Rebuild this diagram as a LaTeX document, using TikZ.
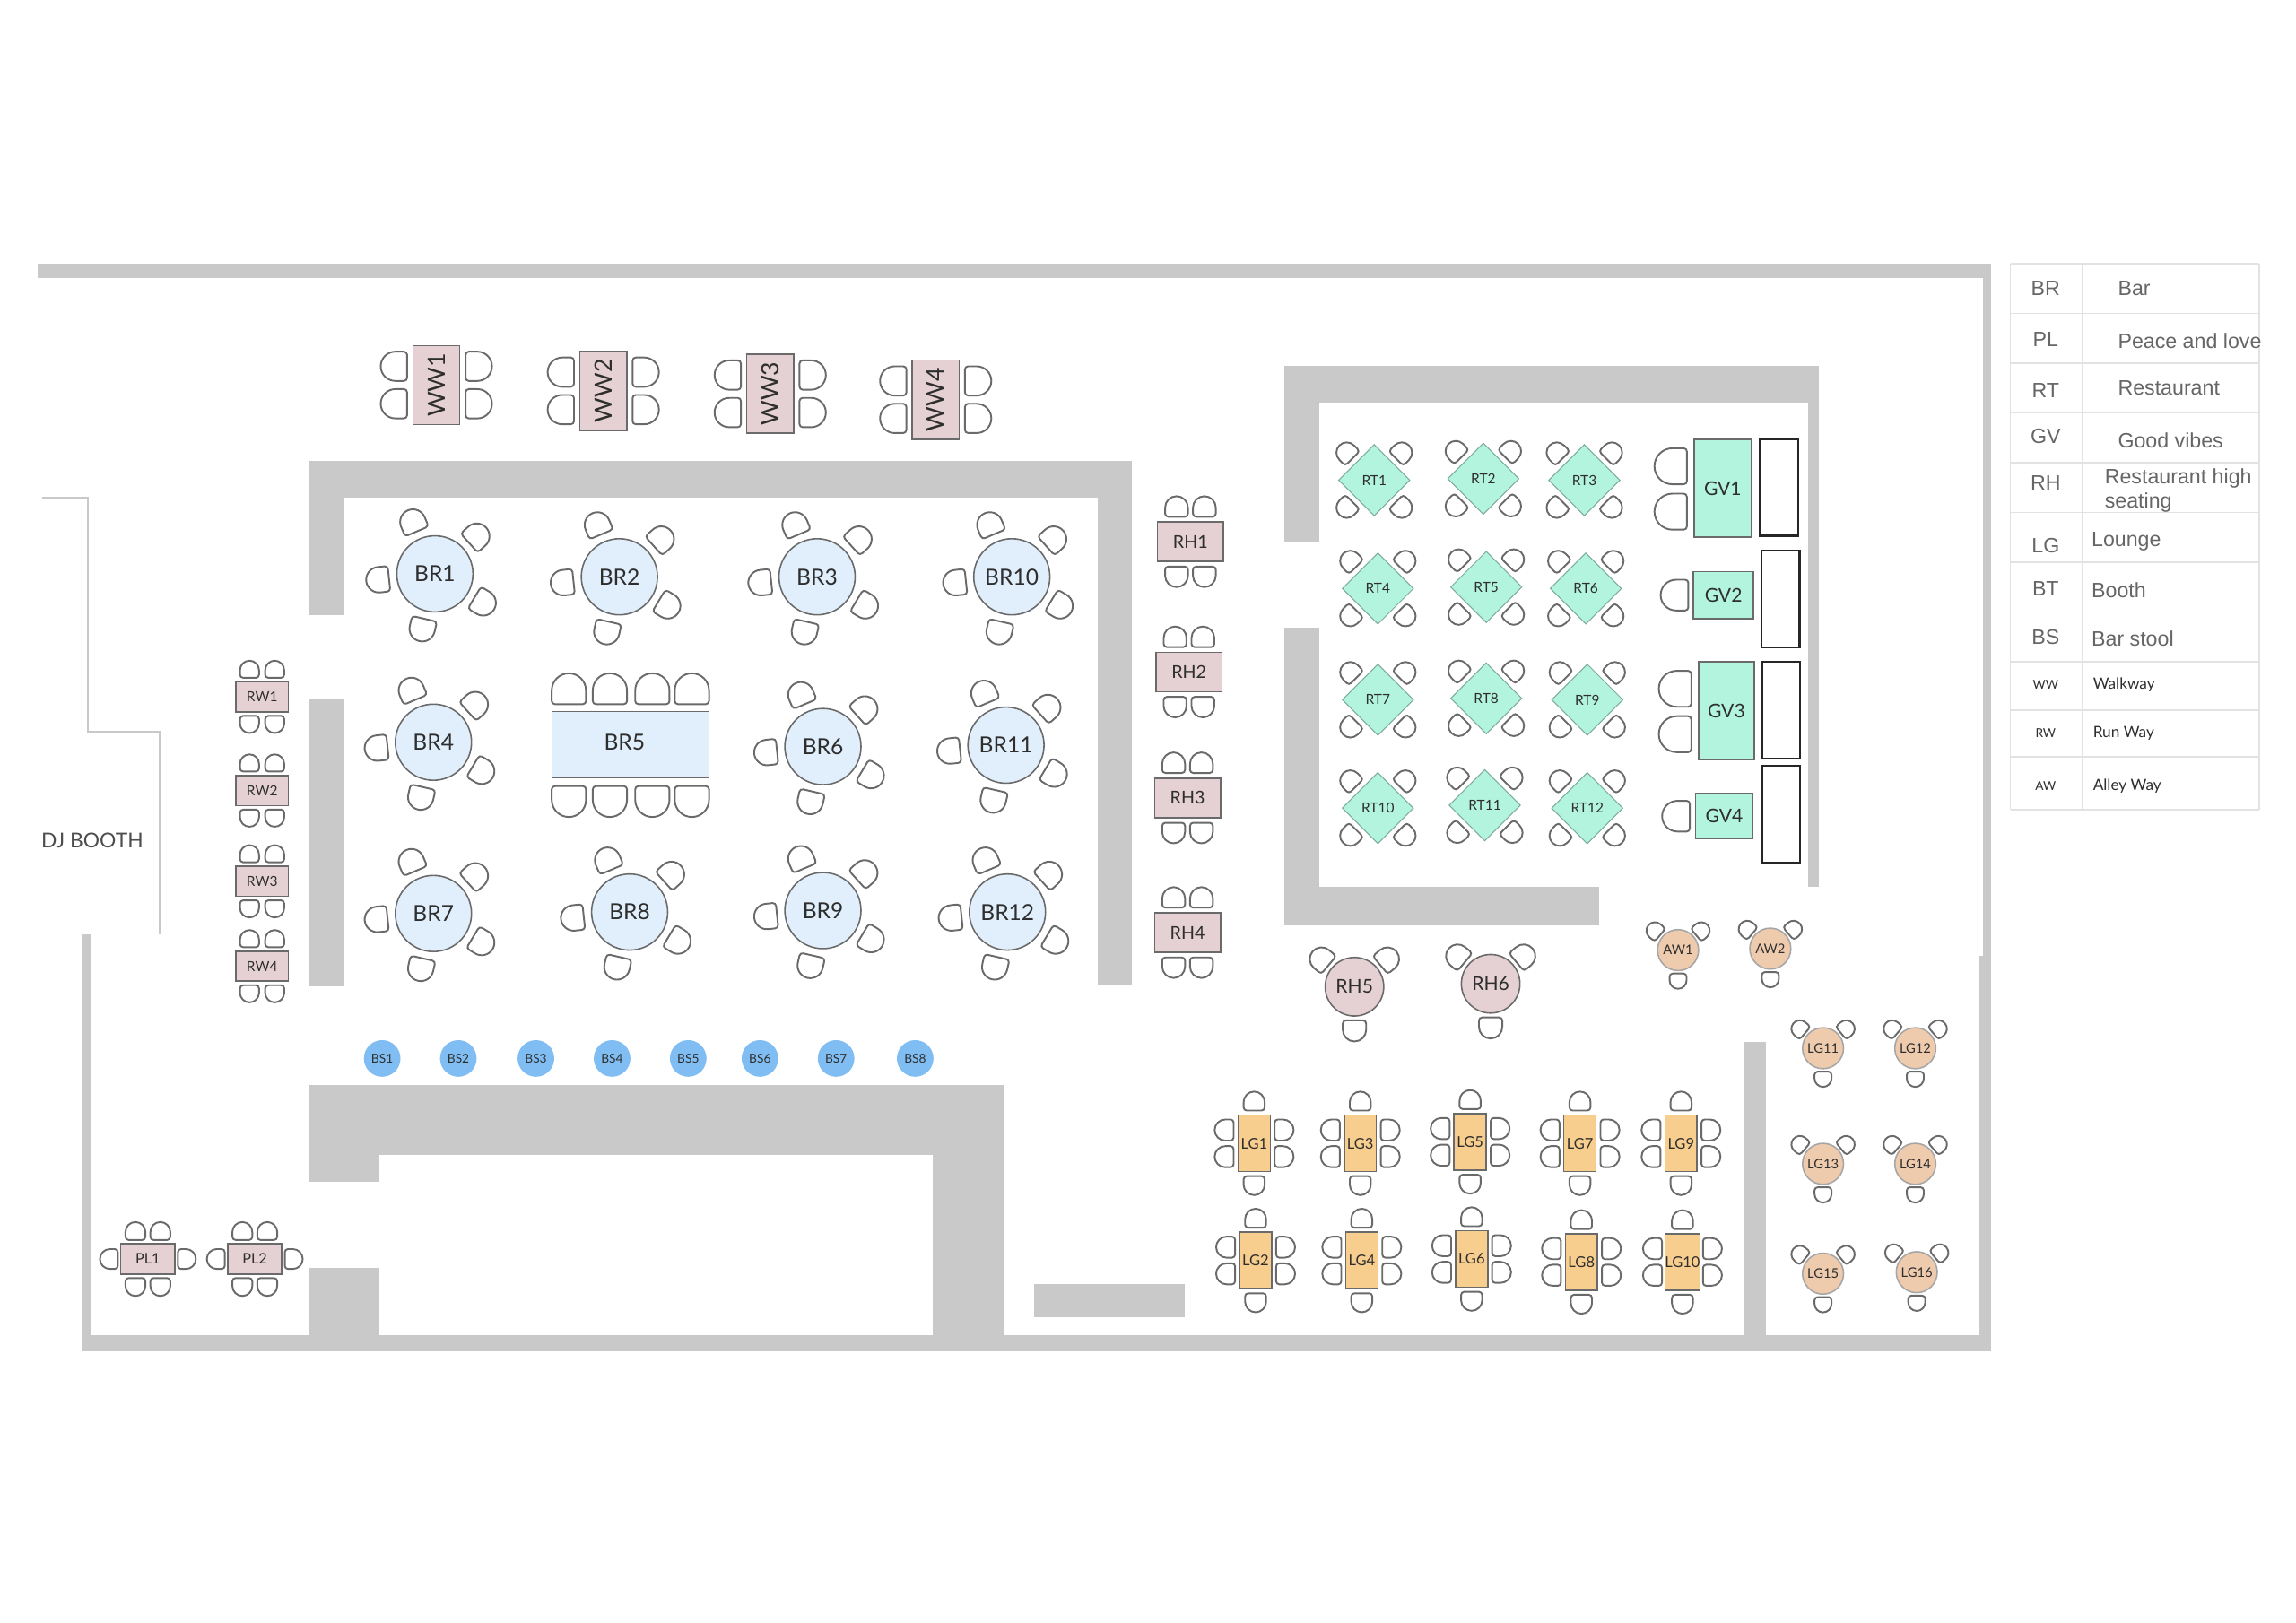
\documentclass[tikz,border=0pt]{standalone}
\usepackage{fontspec}
\setmainfont{Lato}
\newfontfamily\legendfont{Liberation Sans}
\usetikzlibrary{calc,shapes.geometric}

\definecolor{wallgrey}{HTML}{C9C9C9}
\definecolor{chairline}{HTML}{6A6A6A}
\definecolor{barblue}{HTML}{E0EFFB}
\definecolor{rosepink}{HTML}{E5D1D3}
\definecolor{mint}{HTML}{B3F4DF}
\definecolor{loungeorange}{HTML}{F8CE8E}
\definecolor{peach}{HTML}{EFCBAE}
\definecolor{stoolblue}{HTML}{7FBDF2}
\definecolor{legendline}{HTML}{E2E2E2}
\definecolor{legendtext}{HTML}{666666}
\definecolor{labeltext}{HTML}{2E2E2E}

\def\tu{0.16327mm}
\newcommand{\seat}[4]{\pic[rotate=#3,scale=#4] at ($(#1)+(#2)$) {chair}}

\begin{document}
\begin{tikzpicture}[
		x=0.16327mm, y=-0.16327mm,
		wall/.style = {fill=wallgrey},
		chair/.pic = {
			\draw[chairline, line width=.55pt, x=\tu, y=\tu] (8,-10) [rounded corners=1pt] -- (0,-10) -- (0,10) [sharp corners] -- (8,10) arc[start angle=90, end angle=-90, radius=10] -- cycle;
		},
		basic/.style = {draw=chairline, line width=.45pt, inner sep=0pt, outer sep=0pt, text=labeltext, align=center},
		bartable/.style = {basic, circle, fill=barblue, minimum size=52*\tu, font=\fontsize{7}{8}\selectfont},
		walktable/.style = {basic, rotate=90, fill=rosepink, minimum width=54*\tu, minimum height=32*\tu, font=\fontsize{7.6}{8}\selectfont},
		hightable/.style = {basic, fill=rosepink, minimum width=45*\tu, minimum height=27*\tu, font=\fontsize{5.6}{6}\selectfont},
		runtable/.style = {basic, fill=rosepink, minimum width=36*\tu, minimum height=20.5*\tu, font=\fontsize{4.4}{5}\selectfont},
		peacetable/.style = {basic, fill=rosepink, minimum width=37*\tu, minimum height=21*\tu, font=\fontsize{4.6}{5}\selectfont},
		resttable/.style = {basic, diamond, aspect=1, draw=mint!70!black, line width=.3pt, fill=mint, minimum size=48.5*\tu, font=\fontsize{4.4}{5}\selectfont},
		vibetable/.style = {basic, fill=mint, font=\fontsize{6}{7}\selectfont},
		bench/.style = {draw=black!85, line width=.6pt, fill=white, inner sep=0pt, minimum width=26*\tu, minimum height=66*\tu},
		loungetable/.style = {basic, fill=loungeorange, minimum width=22*\tu, minimum height=38.5*\tu, font=\fontsize{4.7}{5}\selectfont},
		sofatable/.style = {basic, circle, fill=rosepink, minimum size=40*\tu, font=\fontsize{6}{7}\selectfont},
		alleytable/.style = {basic, circle, draw=chairline!60, fill=peach, minimum size=28*\tu, font=\fontsize{4.2}{5}\selectfont},
		stool/.style = {circle, fill=stoolblue, inner sep=0pt, minimum size=25*\tu, text=labeltext, font=\fontsize{3.9}{4}\selectfont},
		legendkey/.style = {text=legendtext, font=\legendfont\fontsize{6.6}{7}\selectfont},
		legendname/.style = {anchor=west, text=legendtext, font=\legendfont\fontsize{6.6}{7.6}\selectfont, align=left, inner sep=0pt},
		smallkey/.style = {text=labeltext, font=\fontsize{3.9}{4}\selectfont},
		smallname/.style = {anchor=west, text=labeltext, inner sep=0pt, font=\fontsize{4.9}{5}\selectfont}]

	\useasboundingbox (0,0) rectangle (1568,1108.6);

	% outer walls
	\fill[wall] (26,180) rectangle (1360,190);
	\fill[wall] (1354,190) rectangle (1360,653);
	\fill[wall] (1351,653) rectangle (1360,923);
	\fill[wall] (56,912) rectangle (1360,923);
	\fill[wall] (56,638) rectangle (62,923);

	% bar room walls
	\fill[wall] (211,315) rectangle (773,340);
	\fill[wall] (211,340) rectangle (235,420);
	\fill[wall] (211,478) rectangle (235,674);
	\fill[wall] (750,340) rectangle (773,673);

	% counter and lower blocks
	\fill[wall] (211,741) rectangle (686,789);
	\fill[wall] (211,789) rectangle (259,807);
	\fill[wall] (637,789) rectangle (686,912);
	\fill[wall] (211,866) rectangle (259,912);
	\fill[wall] (706,877) rectangle (809,900);
	\fill[wall] (1191,712) rectangle (1206,912);

	% restaurant room walls
	\fill[wall] (877,250) rectangle (1242,275);
	\fill[wall] (877,275) rectangle (901,370);
	\fill[wall] (877,429) rectangle (901,632);
	\fill[wall] (901,606) rectangle (1092,632);
	\fill[wall] (1235,275) rectangle (1242,606);

	% dj booth outline
	\draw[wallgrey, line width=.6pt] (29,340) -- (60,340) -- (60,500) -- (109,500) -- (109,638);
	\node[text=labeltext!85, font=\fontsize{6.5}{7}\selectfont, inner sep=0pt] (dj) at (63,574) {DJ BOOTH};

	% walkway tables
	\foreach \tbl/\px/\py in {WW1/298/263, WW2/412/267, WW3/526/269, WW4/639/273} {
		\node[walktable] (\tbl) at (\px,\py) {\tbl};
		\foreach \dx/\ang in {-20/180, 20/0}
		\foreach \dy in {-12.8,12.8}
		\seat{\tbl}{\dx,\dy}{\ang}{1};
	}

	% round bar tables
	\foreach \tbl/\px/\py in {BR1/297/392, BR2/423/394, BR3/558/394, BR10/691/394, BR4/296/507, BR6/562/510, BR11/687/509, BR7/296/624, BR8/430/623, BR9/562/622, BR12/688/623} {
		\node[bartable] (\tbl) at (\px,\py) {\tbl};
		\foreach \ang in {186,113,42,-31,-103}
		\seat{\tbl}{-\ang:31.5}{\ang}{.87};
	}

	% long bar table
	\fill[barblue] (377,486) rectangle (484,531);
	\draw[chairline, line width=.5pt] (377,486) -- (484,486);
	\draw[chairline, line width=.5pt] (377,531) -- (484,531);
	\node[text=labeltext, inner sep=0pt, font=\fontsize{7}{8}\selectfont] (BR5) at (426.5,507) {BR5};
	\foreach \dx in {-38,-10,19,46} {
		\seat{BR5}{\dx,-26}{90}{1.17};
		\seat{BR5}{\dx,30}{-90}{1.17};
	}

	% run way tables
	\foreach \tbl/\py in {RW1/476, RW2/540, RW3/602, RW4/660} {
		\node[runtable] (\tbl) at (179,\py) {\tbl};
		\foreach \dy/\ang in {-13/90, 13/-90}
		\foreach \dx in {-8.6,8.6}
		\seat{\tbl}{\dx,\dy}{\ang}{.65};
	}

	% restaurant high tables
	\foreach \tbl/\px/\py in {RH1/813/370, RH2/812/459, RH3/811/545, RH4/811/637} {
		\node[hightable] (\tbl) at (\px,\py) {\tbl};
		\foreach \dy/\ang in {-17/90, 17/-90}
		\foreach \dx in {-9.5,9.5}
		\seat{\tbl}{\dx,\dy}{\ang}{.78};
	}

	% peace and love tables
	\foreach \tbl/\px in {PL1/101, PL2/174} {
		\node[peacetable] (\tbl) at (\px,860) {\tbl};
		\foreach \dy/\ang in {-13/90, 13/-90}
		\foreach \dx in {-8.5,8.5}
		\seat{\tbl}{\dx,\dy}{\ang}{.68};
		\seat{\tbl}{-20.5,0}{180}{.68};
		\seat{\tbl}{20.5,0}{0}{.68};
	}

	% restaurant diamonds
	\foreach \tbl/\px/\py in {RT1/938.5/328, RT2/1013/327, RT3/1082/328, RT4/941/402, RT5/1015/401, RT6/1083/402, RT7/941/478, RT8/1015/477, RT9/1084/478, RT10/941/552, RT11/1014/550, RT12/1084/552} {
		\node[resttable] (\tbl) at (\px,\py) {\tbl};
		\foreach \ang in {45,135,225,315}
		\seat{\tbl}{-\ang:21}{\ang}{.7};
	}

	% good vibes booths
	\node[vibetable, minimum width=39*\tu, minimum height=67*\tu] (GV1) at (1176.5,333.5) {GV1};
	\node[vibetable, minimum width=41*\tu, minimum height=32*\tu] (GV2) at (1177,406.5) {GV2};
	\node[vibetable, minimum width=38*\tu, minimum height=67*\tu] (GV3) at (1179,485.5) {GV3};
	\node[vibetable, minimum width=39*\tu, minimum height=31*\tu] (GV4) at (1177.5,557.5) {GV4};
	\seat{GV1}{-24.5,-15}{180}{1.23};
	\seat{GV1}{-24.5,16}{180}{1.23};
	\seat{GV2}{-24,0}{180}{1.05};
	\seat{GV3}{-24,-15}{180}{1.23};
	\seat{GV3}{-24,16}{180}{1.23};
	\seat{GV4}{-23.5,0}{180}{1.05};
	\node[bench] (bench1) at (1215,333) {};
	\node[bench] (bench2) at (1216,409) {};
	\node[bench] (bench3) at (1216.5,485) {};
	\node[bench] (bench4) at (1216.5,556) {};

	% round high tables
	\foreach \tbl/\px/\py in {RH5/925/674, RH6/1018/672} {
		\node[sofatable] (\tbl) at (\px,\py) {\tbl};
		\foreach \ang in {140,40,-90}
		\seat{\tbl}{-\ang:23}{\ang}{.8};
	}

	% alley and corner lounge tables
	\foreach \tbl/\px/\py in {AW1/1146/649, AW2/1209/648, LG11/1245/716, LG12/1308/716, LG13/1245/795, LG14/1308/795, LG15/1245/870, LG16/1309/869} {
		\node[alleytable] (\tbl) at (\px,\py) {\tbl};
		\foreach \ang in {140,40,-90}
		\seat{\tbl}{-\ang:16}{\ang}{.58};
	}

	% lounge tables
	\foreach \tbl/\px/\py in {LG1/856.5/781, LG3/929/781, LG5/1004/780, LG7/1079/781, LG9/1148/781, LG2/857.5/861, LG4/930/861, LG6/1005/860, LG8/1080/862, LG10/1149/862} {
		\node[loungetable] (\tbl) at (\px,\py) {\tbl};
		\foreach \dx/\ang in {-14/180, 14/0}
		\foreach \dy in {-9.1,9.1}
		\seat{\tbl}{\dx,\dy}{\ang}{.72};
		\seat{\tbl}{0,-22.4}{90}{.72};
		\seat{\tbl}{0,22.4}{-90}{.72};
	}

	% bar stools
	\foreach \value/\px in {1/261, 2/313, 3/366, 4/418, 5/470, 6/519, 7/571, 8/625}
	\node[stool] (BS\value) at (\px,723) {BS\value};

	% legend lines
	\foreach \py in {180,214,248,282,316,350,384,418,452,485,517,553}
	\draw[legendline, line width=.4pt] (1373,\py) -- (1543,\py);
	\draw[legendline, line width=.4pt] (1373,180) -- (1373,553);
	\draw[legendline, line width=.4pt] (1422,180) -- (1422,553);
	\draw[legendline, line width=.4pt] (1543,180) -- (1543,553);

	% legend texts
	\foreach \key/\py in {BR/197, PL/232, RT/267, GV/298, RH/330, LG/373, BT/402, BS/435}
	\node[legendkey] (key\key) at (1397,\py) {\key};
	\foreach \key/\py in {WW/468, RW/501, AW/537}
	\node[smallkey] (key\key) at (1397,\py) {\key};

	\node[legendname] (nameBR) at (1446,197) {Bar};
	\node[legendname] (namePL) at (1446,233) {Peace and love};
	\node[legendname] (nameRT) at (1446,265) {Restaurant};
	\node[legendname] (nameGV) at (1446,301) {Good vibes};
	\node[legendname] (nameRH) at (1437,335) {Restaurant high\\seating};
	\node[legendname] (nameLG) at (1428,370) {Lounge};
	\node[legendname] (nameBT) at (1428,403) {Booth};
	\node[legendname] (nameBS) at (1428,436) {Bar stool};
	\node[smallname] (nameWW) at (1429,468) {Walkway};
	\node[smallname] (nameRW) at (1429,501) {Run Way};
	\node[smallname] (nameAW) at (1429,537) {Alley Way};
\end{tikzpicture}
\end{document}
